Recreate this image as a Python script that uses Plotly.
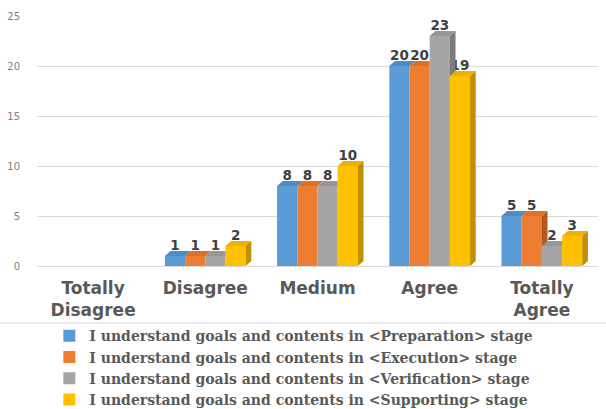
import plotly.graph_objects as go

categories = ["Totally<br>Disagree", "Disagree", "Medium", "Agree", "Totally<br>Agree"]
series_names = [
    "I understand goals and contents in &lt;Preparation&gt; stage",
    "I understand goals and contents in &lt;Execution&gt; stage",
    "I understand goals and contents in &lt;Verification&gt; stage",
    "I understand goals and contents in &lt;Supporting&gt; stage",
]
preparation = [0, 1, 8, 20, 5]
execution = [0, 1, 8, 20, 5]
verification = [0, 1, 8, 23, 2]
supporting = [0, 2, 10, 19, 3]
y_ticks = [0, 5, 10, 15, 20, 25]

colors = ["#5B9BD5", "#ED7D31", "#A5A5A5", "#FFC000"]
side_colors = ["#3F73A8", "#B25A1E", "#7B7B7B", "#BF9000"]
top_colors = ["#4F8CC6", "#DD7128", "#979797", "#EDB200"]
all_values = [preparation, execution, verification, supporting]

BARGAP = 0.28
n_series = len(all_values)
w = (1 - BARGAP) / n_series      # width of one bar in category units
DX = 0.05                         # depth, category units
DY = 0.5                          # depth, value units

fig = go.Figure()
for name, vals, col in zip(series_names, all_values, colors):
    fig.add_trace(go.Bar(
        x=categories, y=vals, name=name,
        marker=dict(color=col, line=dict(width=0)),
        text=[str(v) if v > 0 else "" for v in vals],
        textposition="outside",
        textfont=dict(family="DejaVu Sans", size=13.5, color="#404040", weight="bold"),
        cliponaxis=False,
    ))

# pseudo-3D faces derived from the data
shapes = []
for i in range(len(categories)):
    for j in range(n_series):
        v = all_values[j][i]
        if v <= 0:
            continue
        left = i - (1 - BARGAP) / 2 + j * w
        right = left + w
        nxt = all_values[j + 1][i] if j + 1 < n_series else 0
        # top face
        if nxt >= v + DY:
            pts = [(left, v), (right, v), (right, v + DY), (left + DX, v + DY)]
        else:
            pts = [(left, v), (right, v), (right + DX, v + DY), (left + DX, v + DY)]
        path = "M " + " L ".join(f"{x},{y}" for x, y in pts) + " Z"
        shapes.append(dict(type="path", xref="x", yref="y", path=path,
                           fillcolor=top_colors[j], line=dict(width=0), layer="above"))
        # side face (visible part only)
        if v > nxt:
            y_low = max(nxt, 0)
            pts = [(right, y_low), (right, v), (right + DX, v + DY),
                   (right + DX, DY if y_low == 0 else y_low)]
            path = "M " + " L ".join(f"{x},{y}" for x, y in pts) + " Z"
            shapes.append(dict(type="path", xref="x", yref="y", path=path,
                               fillcolor=side_colors[j], line=dict(width=0), layer="above"))

shapes.append(dict(type="line", xref="paper", yref="paper", x0=-0.07, x1=1.02,
                   y0=-0.228, y1=-0.228, line=dict(color="#D9D9D9", width=1)))

fig.update_layout(
    width=606, height=409,
    margin=dict(l=37, r=8, t=16, b=143),
    paper_bgcolor="white", plot_bgcolor="white",
    barmode="group", bargap=BARGAP, bargroupgap=0,
    showlegend=True,
    legend=dict(
        orientation="v", x=0.022, xanchor="left", y=0.217, yanchor="top",
        xref="paper", yref="container",
        font=dict(family="DejaVu Serif", size=14, color="#595959", weight="bold"),
        itemsizing="constant", tracegroupgap=0,
        bgcolor="rgba(0,0,0,0)",
    ),
    xaxis=dict(
        tickfont=dict(family="DejaVu Sans", size=17, color="#595959", weight="bold"),
        showgrid=False, showline=False, ticks="", ticklabelstandoff=10,
        range=[-0.5, 4.5], automargin=False,
    ),
    yaxis=dict(
        range=[0, 25], tickvals=y_ticks,
        tickfont=dict(family="DejaVu Sans", size=10, color="#7F7F7F"),
        showgrid=True, gridcolor="#D9D9D9", gridwidth=1,
        zeroline=True, zerolinecolor="#D9D9D9", zerolinewidth=1,
        showline=False, ticks="", ticklabelstandoff=16, automargin=False,
    ),
    shapes=shapes,
)

fig.write_html("out.html")
